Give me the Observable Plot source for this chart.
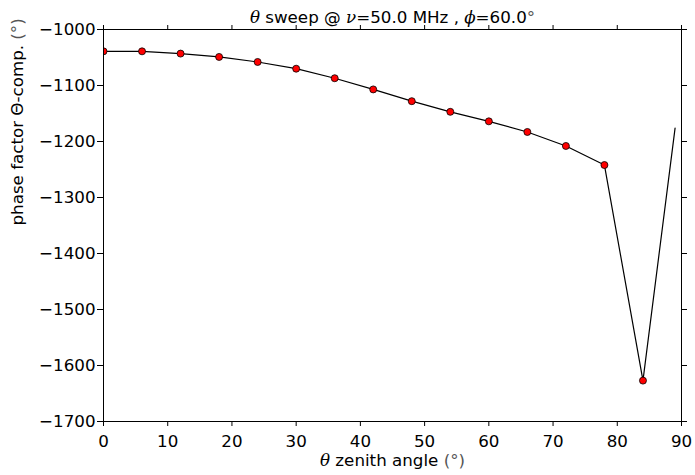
<!DOCTYPE html>
<html><head><meta charset="utf-8">
<script src="https://cdn.jsdelivr.net/npm/d3@7"></script>
<script src="https://cdn.jsdelivr.net/npm/@observablehq/plot@0.6"></script>
<style>body{margin:0;background:#fff}</style>
</head><body><div id="chart"></div>
<script>
// sampled points (with markers)
const thetaDots = [0, 6, 12, 18, 24, 30, 36, 42, 48, 54, 60, 66, 72, 78, 84];
const phaseDots = [-1039, -1039, -1043, -1049, -1058, -1070, -1087, -1107, -1128, -1147, -1164, -1183, -1208, -1242, -1627];
// last line point (no marker)
const thetaEnd = [89];
const phaseEnd = [-1176];
const xTicks = [0, 10, 20, 30, 40, 50, 60, 70, 80, 90];
const yTicks = [-1700, -1600, -1500, -1400, -1300, -1200, -1100, -1000];
const titleText = "θ sweep @ ν=50.0 MHz , ϕ=60.0°";
const xLabel = "θ zenith angle (°)";
const yLabel = "phase factor Θ-comp. (°)";

const dots = thetaDots.map((t, i) => ({theta: t, phase: phaseDots[i]}));
const linePts = dots.concat(thetaEnd.map((t, i) => ({theta: t, phase: phaseEnd[i]})));

const chart = Plot.plot({
  width: 695, height: 475,
  marginLeft: 103, marginRight: 14, marginTop: 29, marginBottom: 54,
  style: {fontFamily: "DejaVu Sans", fontSize: "16.7px", color: "black", background: "white", overflow: "visible"},
  x: {domain: [0, 90]},
  y: {domain: [-1700, -1000]},
  marks: [
    Plot.axisX({ticks: xTicks, anchor: "bottom", tickSize: 5, tickPadding: 9, label: null, tickFormat: d3.format("d")}),
    Plot.axisX({ticks: xTicks, anchor: "top", tickSize: 5, tickFormat: () => "", label: null}),
    Plot.axisY({ticks: yTicks, anchor: "left", tickSize: 6, tickPadding: 2, label: null, tickFormat: d3.format("d")}),
    Plot.axisY({ticks: yTicks, anchor: "right", tickSize: 5, tickFormat: () => "", label: null}),
    Plot.line(linePts, {x: "theta", y: "phase", stroke: "black", strokeWidth: 1.2}),
    Plot.dot(dots, {x: "theta", y: "phase", r: 3.5, fill: "red", stroke: "black", strokeWidth: 0.8, clip: true}),
    Plot.frame({stroke: "black", strokeWidth: 1}),
    Plot.text([titleText], {frameAnchor: "top", text: d => d, lineAnchor: "bottom", dy: -7, className: "ttl"}),
    Plot.text([xLabel], {frameAnchor: "bottom", text: d => d, lineAnchor: "bottom", dy: 44, className: "xlab"}),
    Plot.text([yLabel], {frameAnchor: "left", text: d => d, lineAnchor: "middle", rotate: -90, dx: -86, className: "ylab"})
  ]
});
document.getElementById("chart").appendChild(chart);

// italic serif math symbols, lighter unit brackets
function richify(cls, parts) {
  const t = d3.select(chart).select("." + cls).select("text");
  t.text(null);
  parts.forEach(([s, style]) => {
    const sp = t.append("tspan").text(s);
    if (style === "it") sp.attr("font-family", "DejaVu Serif").attr("font-style", "italic");
    if (style === "unit") sp.attr("fill", "#555");
  });
}
richify("ttl", [["θ", "it"], [" sweep @ ", 0], ["ν", "it"], ["=50.0 MHz , ", 0], ["ϕ", "it"], ["=60.0", 0], ["°", "unit"]]);
richify("xlab", [["θ", "it"], [" zenith angle ", 0], ["(°)", "unit"]]);
richify("ylab", [["phase factor Θ-comp. ", 0], ["(°)", "unit"]]);
</script>
</body></html>
